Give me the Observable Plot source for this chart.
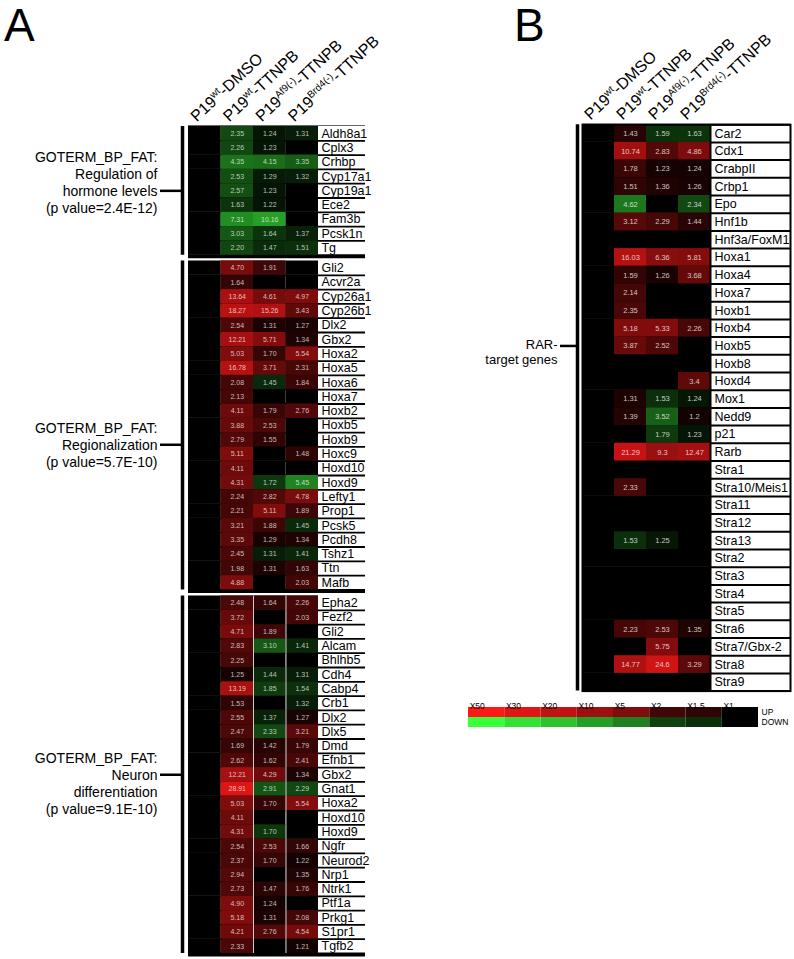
<!DOCTYPE html>
<html><head><meta charset="utf-8">
<script src="https://cdn.jsdelivr.net/npm/d3@7"></script>
<script src="https://cdn.jsdelivr.net/npm/@observablehq/plot@0.6"></script>
<style>
body{margin:0;background:#fff;}
#fig{position:relative;width:794px;height:959px;background:#fff;overflow:hidden;font-family:"Liberation Sans",Arial,Helvetica,sans-serif;}
.panel{position:absolute;font-size:46px;line-height:1;color:#000;}
</style></head>
<body><div id="fig"></div>
<script>
// ---------------- DATA ----------------
const columns = ["DMSO", "TTNPB", "Af9", "Brd4"];
const headerBase = ["P19", "P19", "P19", "P19"];
const headerSup = ["wt", "wt", "Af9(-)", "Brd4(-)"];
const headerTail = ["-DMSO", "-TTNPB", "-TTNPB", "-TTNPB"];

// fold change vs P19wt-DMSO; negative = down (green), null = no change (black)
const hormoneGenes = ["Aldh8a1","Cplx3","Crhbp","Cyp17a1","Cyp19a1","Ece2","Fam3b","Pcsk1n","Tg"];
const hormoneTTNPB = [-2.35,-2.26,-4.35,-2.53,-2.57,-1.63,-7.31,-3.03,-2.20];
const hormoneAf9   = [-1.24,-1.23,-4.15,-1.29,-1.23,-1.22,-10.16,-1.64,-1.47];
const hormoneBrd4  = [-1.31,null,-3.35,-1.32,null,null,null,-1.37,-1.51];
const hormoneLabel = "GOTERM_BP_FAT:\nRegulation of\nhormone levels\n(p value=2.4E-12)";

const regionGenes = ["Gli2","Acvr2a","Cyp26a1","Cyp26b1","Dlx2","Gbx2","Hoxa2","Hoxa5","Hoxa6","Hoxa7","Hoxb2","Hoxb5","Hoxb9","Hoxc9","Hoxd10","Hoxd9","Lefty1","Prop1","Pcsk5","Pcdh8","Tshz1","Ttn","Mafb"];
const regionTTNPB = [4.70,1.64,13.64,18.27,2.54,12.21,5.03,16.78,2.08,2.13,4.11,3.88,2.79,5.11,4.11,4.31,2.24,2.21,3.21,3.35,2.45,1.98,4.88];
const regionAf9   = [1.91,null,4.61,15.26,1.31,5.71,1.70,3.71,-1.45,null,1.79,2.53,1.55,null,null,-1.72,2.82,5.11,1.88,1.29,-1.31,1.31,null];
const regionBrd4  = [null,null,4.97,3.43,1.27,1.34,5.54,2.31,1.84,null,2.76,null,null,1.48,null,-5.45,4.78,1.89,-1.45,1.34,-1.41,1.63,2.03];
const regionLabel = "GOTERM_BP_FAT:\nRegionalization\n(p value=5.7E-10)";

const neuronGenes = ["Epha2","Fezf2","Gli2","Alcam","Bhlhb5","Cdh4","Cabp4","Crb1","Dlx2","Dlx5","Dmd","Efnb1","Gbx2","Gnat1","Hoxa2","Hoxd10","Hoxd9","Ngfr","Neurod2","Nrp1","Ntrk1","Ptf1a","Prkg1","S1pr1","Tgfb2"];
const neuronTTNPB = [2.48,3.72,4.71,2.83,2.25,1.25,13.19,1.53,2.55,2.47,1.69,2.62,12.21,28.91,5.03,4.11,4.31,2.54,2.37,2.94,2.73,4.90,5.18,4.21,2.33];
const neuronAf9   = [1.64,null,1.89,-3.10,null,-1.44,-1.85,null,-1.37,-2.33,1.42,1.62,4.29,-2.91,1.70,null,-1.70,2.53,1.70,null,1.47,1.24,1.31,2.76,null];
const neuronBrd4  = [2.26,2.03,null,-1.41,null,-1.31,-1.54,-1.32,1.27,3.21,1.79,2.41,1.34,-2.29,5.54,null,null,1.66,1.22,1.35,1.76,null,2.08,4.54,1.21];
const neuronLabel = "GOTERM_BP_FAT:\nNeuron\ndifferentiation\n(p value=9.1E-10)";

const rarGenes = ["Car2","Cdx1","CrabpII","Crbp1","Epo","Hnf1b","Hnf3a/FoxM1","Hoxa1","Hoxa4","Hoxa7","Hoxb1","Hoxb4","Hoxb5","Hoxb8","Hoxd4","Mox1","Nedd9","p21","Rarb","Stra1","Stra10/Meis1","Stra11","Stra12","Stra13","Stra2","Stra3","Stra4","Stra5","Stra6","Stra7/Gbx-2","Stra8","Stra9"];
const rarTTNPB = [1.43,10.74,1.78,1.51,-4.62,3.12,null,16.03,1.59,2.14,2.35,5.18,3.87,null,null,1.31,1.39,null,21.29,null,2.33,null,null,-1.53,null,null,null,null,2.23,null,14.77,null];
const rarAf9   = [-1.59,2.83,1.23,1.36,null,2.29,null,6.36,1.26,null,null,5.33,2.52,null,null,-1.53,-3.52,-1.79,9.3,null,null,null,null,-1.25,null,null,null,null,2.53,5.75,24.60,null];
const rarBrd4  = [-1.63,4.86,1.24,1.26,-2.34,1.44,null,5.81,3.68,null,null,2.26,null,null,3.4,-1.24,1.2,-1.23,12.47,null,null,null,null,null,null,null,null,null,1.35,null,3.29,null];
const rarLabel = "RAR-\ntarget genes";
const rarTickGene = "Hoxb5";

const legendTicks = ["X50","X30","X20","X10","X5","X2","X1.5","X1"];
const legendFolds = [50,30,20,10,5,2,1.5,1];
const legendRows = ["UP","DOWN"];

// ---------------- STYLE ----------------
const FONT = '"Liberation Sans", Arial, Helvetica, sans-serif';
const knots = [1,1.5,2,5,10,20,30,50];
const knotT = [0,0.18,0.26,0.5,0.62,0.76,0.88,1];
const upC = d3.interpolateRgb("#000", "rgb(255,24,24)");
const downC = d3.interpolateRgb("#000", "rgb(60,255,60)");
const colorScale = {
  type: "linear",
  domain: [...knots.map(k => -k).reverse(), ...knots],
  range: [...knotT.map(downC).reverse(), ...knotT.map(upC)],
  interpolate: d3.interpolateRgb
};

const fig = document.getElementById("fig");
function place(node, left, top) {
  node.style.position = "absolute";
  node.style.left = left + "px";
  node.style.top = top + "px";
  fig.appendChild(node);
  return node;
}
function cellsOf(genes, series) {
  const out = [];
  genes.forEach((g, i) => series.forEach((arr, j) => {
    const v = arr[i];
    if (v != null) out.push({gene: g, cond: columns[j + 1], value: v});
  }));
  return out;
}
const headerFull = columns.map((c, i) => headerBase[i] + headerSup[i] + headerTail[i]);
function superscriptHeaders(svg) {
  d3.select(svg).selectAll("text")
    .filter(function() { return headerFull.includes(this.textContent); })
    .each(function() {
      const i = headerFull.indexOf(this.textContent);
      const t = d3.select(this);
      t.text(null);
      t.append("tspan").text(headerBase[i]);
      t.append("tspan").attr("font-size", 10).attr("dy", -6).text(headerSup[i]);
      t.append("tspan").attr("dy", 6).text(headerTail[i]);
    });
}
function headerMark() {
  return Plot.text(columns, {
    x: d => d, frameAnchor: "top", text: (d, i) => headerFull[i],
    rotate: -43, textAnchor: "start", lineAnchor: "bottom", dx: -8, dy: -4,
    fontSize: 16, fill: "#000"
  });
}

// ---------------- PANEL A ----------------
const rowHA = 14.3, colWA = 32.5, A_LEFT = 188, A_W = 370;
function panelAGroup({genes, series, label, rowsTop, svgTop, header, dividers, topLine, tickGene, tickDy, labelDy}) {
  const marginTop = rowsTop - svgTop, marginBottom = 5;
  const height = marginTop + genes.length * rowHA + marginBottom;
  const grid = d3.cross(genes, columns, (gene, cond) => ({gene, cond}));
  const data = cellsOf(genes, series);
  const marks = [
    Plot.ruleY(genes, {y: d => d, dy: rowHA / 2, stroke: "#000", strokeWidth: 1.8}),
    Plot.cell(grid, {x: "cond", y: "gene", fill: "#000"}),
    Plot.cell(data, {x: "cond", y: "gene", fill: "value"}),
    Plot.text(data, {x: "cond", y: "gene", text: d => Math.abs(d.value).toFixed(2), fill: "#fff", fillOpacity: 0.72, fontSize: 7}),
    Plot.text(genes, {y: d => d, x: () => "Brd4", dx: colWA / 2 + 3, textAnchor: "start", fontSize: 12.5, fill: "#000"}),
    Plot.ruleY([genes[genes.length - 1]], {y: d => d, dy: rowHA / 2 + 1.5, strokeWidth: 3, stroke: "#000"}),
    Plot.ruleX(["DMSO"], {x: d => d, dx: -(colWA / 2 + 6), strokeWidth: 3.5, stroke: "#000"}),
    Plot.ruleY([tickGene], {y: d => d, dy: tickDy, x1: () => "DMSO", x2: () => "DMSO", insetLeft: -28, insetRight: colWA + 6, strokeWidth: 2.5, stroke: "#000"}),
    Plot.text([label], {y: () => tickGene, frameAnchor: "left", dx: -31, dy: tickDy + labelDy, textAnchor: "end", lineHeight: 1.22, fontSize: 14, fill: "#000"})
  ];
  if (dividers) marks.push(Plot.ruleX(["Af9", "Brd4"], {x: d => d, dx: -colWA / 2, stroke: "#ccc", strokeWidth: 1}));
  if (topLine) marks.push(Plot.ruleY([genes[0]], {y: d => d, dy: -rowHA / 2 - 1, stroke: "#666", strokeWidth: 1}));
  if (header) marks.push(headerMark());
  const svg = Plot.plot({
    width: A_W, height, marginLeft: A_LEFT, marginRight: 5, marginTop, marginBottom,
    x: {type: "band", domain: columns, range: [A_LEFT, A_LEFT + 4 * colWA], padding: 0, round: false, axis: null},
    y: {type: "band", domain: genes, range: [marginTop, marginTop + genes.length * rowHA], padding: 0, round: false, axis: null},
    color: colorScale,
    style: {background: "transparent", fontFamily: FONT, overflow: "visible"},
    marks
  });
  if (header) superscriptHeaders(svg);
  place(svg, 0, svgTop);
}
panelAGroup({genes: hormoneGenes, series: [hormoneTTNPB, hormoneAf9, hormoneBrd4], label: hormoneLabel, rowsTop: 126, svgTop: 0, header: true, topLine: true, tickGene: "Cyp19a1", tickDy: 0, labelDy: -8.5});
panelAGroup({genes: regionGenes, series: [regionTTNPB, regionAf9, regionBrd4], label: regionLabel, rowsTop: 260, svgTop: 257.5, tickGene: "Hoxb9", tickDy: 5, labelDy: 0});
panelAGroup({genes: neuronGenes, series: [neuronTTNPB, neuronAf9, neuronBrd4], label: neuronLabel, rowsTop: 595, svgTop: 592.5, dividers: true, tickGene: "Gbx2", tickDy: 0, labelDy: 8.5});

// ---------------- PANEL B ----------------
const rowHB = 17.7, colWB = 32, B_SVG_LEFT = 470, B_LEFT = 112, B_W = 324, B_TOP = 124.2;
{
  const marginBottom = 4;
  const height = B_TOP + rarGenes.length * rowHB + marginBottom;
  const grid = d3.cross(rarGenes, columns, (gene, cond) => ({gene, cond}));
  const data = cellsOf(rarGenes, [rarTTNPB, rarAf9, rarBrd4]);
  const fmt = d3.format(".2~f");
  const svg = Plot.plot({
    width: B_W, height, marginLeft: B_LEFT, marginRight: 4, marginTop: B_TOP, marginBottom,
    x: {type: "band", domain: columns, range: [B_LEFT, B_LEFT + 4 * colWB], padding: 0, round: false, axis: null},
    y: {type: "band", domain: rarGenes, range: [B_TOP, B_TOP + rarGenes.length * rowHB], padding: 0, round: false, axis: null},
    color: colorScale,
    style: {background: "transparent", fontFamily: FONT, overflow: "visible"},
    marks: [
      Plot.ruleY(rarGenes, {y: d => d, dy: rowHB / 2, stroke: "#000", strokeWidth: 2}),
      Plot.ruleY([rarGenes[0]], {y: d => d, dy: -rowHB / 2, stroke: "#000", strokeWidth: 2}),
      Plot.cell(grid, {x: "cond", y: "gene", fill: "#000"}),
      Plot.cell(data, {x: "cond", y: "gene", fill: "value"}),
      Plot.text(data, {x: "cond", y: "gene", text: d => fmt(Math.abs(d.value)), fill: "#fff", fillOpacity: 0.75, fontSize: 7.5}),
      Plot.ruleX(["Brd4"], {x: d => d, dx: colWB / 2, stroke: "#000", strokeWidth: 2}),
      Plot.frame({stroke: "#000", strokeWidth: 2}),
      Plot.text(rarGenes, {y: d => d, x: () => "Brd4", dx: colWB / 2 + 4, textAnchor: "start", fontSize: 12.5, fill: "#000"}),
      Plot.ruleX(["DMSO"], {x: d => d, dx: -(colWB / 2 + 5), strokeWidth: 3.5, stroke: "#000"}),
      Plot.ruleY([rarTickGene], {y: d => d, x1: () => "DMSO", x2: () => "DMSO", insetLeft: -22, insetRight: colWB + 5, strokeWidth: 2.5, stroke: "#000"}),
      Plot.text([rarLabel], {y: () => rarTickGene, frameAnchor: "left", dx: -25, textAnchor: "end", lineAnchor: "top", dy: -8, lineHeight: 1.15, fontSize: 13, fill: "#000"}),
      headerMark()
    ]
  });
  superscriptHeaders(svg);
  place(svg, B_SVG_LEFT, 0);
}

// ---------------- LEGEND ----------------
{
  const cells = d3.cross(legendRows, legendTicks.map((t, i) => ({t, f: legendFolds[i]})), (r, c) => ({row: r, tick: c.t, v: r === "UP" ? c.f : -c.f}));
  const svg = Plot.plot({
    width: 354, height: 40, marginLeft: 28, marginRight: 36, marginTop: 17, marginBottom: 3,
    x: {type: "band", domain: legendTicks, padding: 0, round: false, axis: null},
    y: {type: "band", domain: legendRows, padding: 0, round: false, axis: null},
    color: colorScale,
    style: {background: "transparent", fontFamily: FONT, overflow: "visible"},
    marks: [
      Plot.cell(cells, {x: "tick", y: "row", fill: "v"}),
      Plot.text(legendTicks, {x: d => d, frameAnchor: "top", dy: -5, dx: -17, textAnchor: "start", fontSize: 8.5, fill: "#000"}),
      Plot.text(legendRows, {y: d => d, frameAnchor: "right", dx: 3, textAnchor: "start", fontSize: 8.5, fill: "#000"})
    ]
  });
  place(svg, 440, 690);
}

// panel letters
const la = document.createElement("div"); la.className = "panel"; la.textContent = "A"; place(la, 4, 2);
const lb = document.createElement("div"); lb.className = "panel"; lb.textContent = "B"; place(lb, 514, 2);
</script></body></html>
